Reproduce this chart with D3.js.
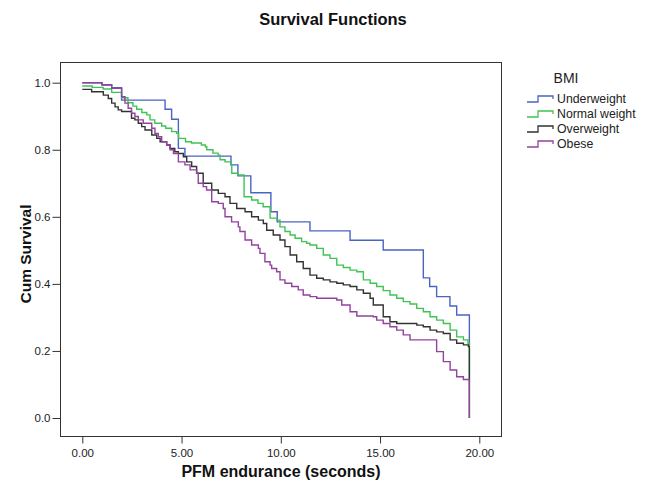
<!DOCTYPE html>
<html>
<head>
<meta charset="utf-8">
<script src="https://cdn.jsdelivr.net/npm/d3@7"></script>
<style>
  html, body { margin: 0; padding: 0; background: #fff; }
  svg { display: block; font-family: "Liberation Sans", Arial, sans-serif; }
</style>
</head>
<body>
<svg id="chart" width="646" height="484"></svg>
<script>
// ---------- data ----------
const groups = ["Underweight", "Normal weight", "Overweight", "Obese"];
const legendTitle = "BMI";
const chartTitle = "Survival Functions";
const xLabel = "PFM endurance (seconds)";
const yLabel = "Cum Survival";
const xTicks = [0, 5, 10, 15, 20];
const yTicks = [0, 0.2, 0.4, 0.6, 0.8, 1.0];

// step times (seconds) and survival after each step
const underweightT = [0, 0.98, 1.48, 1.98, 4.17, 4.5, 4.84, 5.17, 7.49, 7.84, 8.49, 9.5, 9.82, 11.47, 13.49, 15.16, 17.18, 17.5, 17.85, 18.52, 18.86, 19.5];
const underweightS = [1.0, 0.994, 0.985, 0.948, 0.921, 0.891, 0.804, 0.781, 0.755, 0.722, 0.672, 0.615, 0.585, 0.558, 0.53, 0.501, 0.418, 0.392, 0.362, 0.334, 0.307, 0.215];

const normalT = [0, 0.5, 1.05, 1.48, 1.98, 2.3, 2.55, 2.74, 3.0, 3.25, 3.41, 3.65, 4.0, 4.2, 4.5, 4.75, 4.85, 5.2, 5.5, 6.0, 6.2, 6.27, 6.58, 6.84, 6.94, 7.19, 7.49, 7.53, 7.84, 8.15, 8.53, 8.85, 9.11, 9.46, 9.8, 9.96, 10.21, 10.47, 10.72, 11.05, 11.3, 11.47, 11.81, 12.14, 12.48, 12.82, 13.15, 13.49, 13.83, 14.16, 14.5, 14.83, 15.16, 15.5, 15.84, 16.17, 16.51, 16.85, 17.18, 17.52, 17.85, 18.19, 18.53, 18.86, 19.2, 19.43, 19.5];
const normalS = [0.99, 0.986, 0.981, 0.971, 0.955, 0.94, 0.93, 0.921, 0.911, 0.904, 0.889, 0.879, 0.871, 0.864, 0.854, 0.849, 0.834, 0.824, 0.82, 0.814, 0.809, 0.80, 0.79, 0.784, 0.77, 0.764, 0.755, 0.73, 0.725, 0.66, 0.65, 0.64, 0.63, 0.596, 0.59, 0.57, 0.556, 0.546, 0.536, 0.526, 0.521, 0.516, 0.506, 0.486, 0.476, 0.456, 0.449, 0.441, 0.436, 0.412, 0.402, 0.392, 0.38, 0.367, 0.357, 0.347, 0.34, 0.327, 0.317, 0.302, 0.292, 0.282, 0.262, 0.242, 0.233, 0.223, 0.11];

const overT = [0, 0.47, 1.06, 1.31, 1.48, 1.65, 1.81, 1.98, 2.48, 2.65, 2.82, 2.99, 3.16, 3.5, 3.75, 3.92, 4.25, 4.42, 4.66, 4.84, 5.09, 5.26, 5.51, 5.76, 6.09, 6.52, 6.85, 7.19, 7.44, 7.78, 8.2, 8.53, 8.87, 9.12, 9.29, 9.62, 9.96, 10.21, 10.47, 10.8, 11.13, 11.47, 11.81, 12.14, 12.48, 12.82, 13.15, 13.49, 13.83, 14.16, 14.5, 14.66, 15.16, 15.5, 15.84, 16.85, 17.18, 17.52, 17.85, 18.19, 18.53, 18.86, 19.2, 19.45, 19.5];
const overS = [0.98, 0.973, 0.963, 0.953, 0.939, 0.928, 0.919, 0.914, 0.894, 0.889, 0.879, 0.869, 0.859, 0.844, 0.834, 0.824, 0.814, 0.804, 0.794, 0.789, 0.779, 0.764, 0.75, 0.73, 0.70, 0.68, 0.67, 0.66, 0.64, 0.625, 0.615, 0.60, 0.59, 0.58, 0.56, 0.546, 0.531, 0.511, 0.486, 0.466, 0.446, 0.426, 0.417, 0.412, 0.406, 0.402, 0.397, 0.392, 0.382, 0.372, 0.357, 0.337, 0.302, 0.287, 0.282, 0.277, 0.272, 0.262, 0.257, 0.252, 0.233, 0.223, 0.218, 0.213, 0.0];

const obeseT = [0, 1.0, 1.48, 1.98, 2.15, 2.31, 2.48, 2.65, 2.82, 3.07, 3.5, 3.66, 3.83, 4.0, 4.25, 4.42, 4.59, 4.84, 5.17, 5.43, 5.76, 5.84, 6.09, 6.26, 6.52, 6.85, 7.1, 7.19, 7.52, 7.86, 7.94, 8.2, 8.53, 8.87, 8.95, 9.2, 9.46, 9.54, 9.79, 9.96, 10.21, 10.55, 10.88, 11.13, 11.47, 11.81, 12.82, 13.07, 13.49, 13.83, 14.66, 14.83, 15.16, 15.5, 15.84, 16.17, 16.51, 17.85, 18.19, 18.53, 18.86, 19.2, 19.5];
const obeseS = [1.0, 0.993, 0.983, 0.958, 0.939, 0.924, 0.909, 0.899, 0.889, 0.879, 0.864, 0.849, 0.839, 0.824, 0.814, 0.80, 0.789, 0.764, 0.755, 0.74, 0.73, 0.70, 0.69, 0.68, 0.645, 0.64, 0.625, 0.60, 0.585, 0.57, 0.556, 0.531, 0.516, 0.506, 0.491, 0.466, 0.456, 0.446, 0.436, 0.412, 0.402, 0.392, 0.382, 0.367, 0.362, 0.357, 0.352, 0.337, 0.317, 0.304, 0.302, 0.292, 0.282, 0.272, 0.262, 0.248, 0.233, 0.198, 0.168, 0.143, 0.123, 0.115, 0.0];

const colors = ["#4a64c2", "#3fc453", "#333333", "#93429f"];

// ---------- build ----------
const series = [
  { name: groups[0], t: underweightT, s: underweightS },
  { name: groups[1], t: normalT, s: normalS },
  { name: groups[2], t: overT, s: overS },
  { name: groups[3], t: obeseT, s: obeseS }
].map((d, i) => ({ name: d.name, color: colors[i], pts: d.t.map((t, j) => [t, d.s[j]]) }));

const svg = d3.select("#chart");
const frame = { left: 60.5, top: 62.5, right: 501.5, bottom: 436.5 };

const x = d3.scaleLinear().domain([0, 20]).range([82.3, 479.3]);
const y = d3.scaleLinear().domain([0, 1]).range([418, 82.7]);

// title
svg.append("text")
  .attr("x", 333).attr("y", 25)
  .attr("text-anchor", "middle")
  .attr("font-size", 16.5).attr("font-weight", "bold").attr("fill", "#111")
  .text(chartTitle);

// frame
svg.append("rect")
  .attr("x", frame.left).attr("y", frame.top)
  .attr("width", frame.right - frame.left).attr("height", frame.bottom - frame.top)
  .attr("fill", "none").attr("stroke", "#333").attr("stroke-width", 1);

// y axis
const yAxis = svg.append("g")
  .attr("transform", `translate(${frame.left},0)`)
  .call(d3.axisLeft(y).tickValues(yTicks).tickFormat(d3.format(".1f")).tickSize(8).tickPadding(2));
yAxis.select(".domain").remove();
yAxis.selectAll(".tick line").attr("stroke", "#333");
yAxis.selectAll(".tick text").attr("font-size", 11.5).attr("fill", "#222")
  .attr("font-family", "Liberation Sans, Arial, sans-serif");

// x axis
const xAxis = svg.append("g")
  .attr("transform", `translate(0,${frame.bottom})`)
  .call(d3.axisBottom(x).tickValues(xTicks).tickFormat(d3.format(".2f")).tickSize(7).tickPadding(5));
xAxis.select(".domain").remove();
xAxis.selectAll(".tick line").attr("stroke", "#333");
xAxis.selectAll(".tick text").attr("font-size", 11.5).attr("fill", "#222")
  .attr("font-family", "Liberation Sans, Arial, sans-serif");

// axis labels
svg.append("text")
  .attr("x", 281).attr("y", 477)
  .attr("text-anchor", "middle")
  .attr("font-size", 16).attr("font-weight", "bold").attr("fill", "#111")
  .text(xLabel);

svg.append("text")
  .attr("transform", "translate(31,254) rotate(-90)")
  .attr("text-anchor", "middle")
  .attr("font-size", 15.5).attr("font-weight", "bold").attr("fill", "#111")
  .text(yLabel);

// survival curves
const line = d3.line()
  .x(d => x(d[0]))
  .y(d => y(d[1]))
  .curve(d3.curveStepAfter);

svg.append("g").selectAll("path")
  .data(series)
  .join("path")
  .attr("d", d => line(d.pts))
  .attr("fill", "none")
  .attr("stroke", d => d.color)
  .attr("stroke-width", 1.4);

// legend
svg.append("text")
  .attr("x", 566).attr("y", 83)
  .attr("text-anchor", "middle")
  .attr("font-size", 14).attr("fill", "#222")
  .text(legendTitle);

const leg = svg.append("g").selectAll("g")
  .data(series)
  .join("g")
  .attr("transform", (d, i) => `translate(527,${98 + i * 15})`);

leg.append("path")
  .attr("d", "M0,4 H11 V-2 H26 V1")
  .attr("fill", "none")
  .attr("stroke", d => d.color)
  .attr("stroke-width", 1.3);

leg.append("text")
  .attr("x", 30).attr("y", 4.5)
  .attr("font-size", 12.3).attr("fill", "#222")
  .text(d => d.name);
</script>
</body>
</html>
